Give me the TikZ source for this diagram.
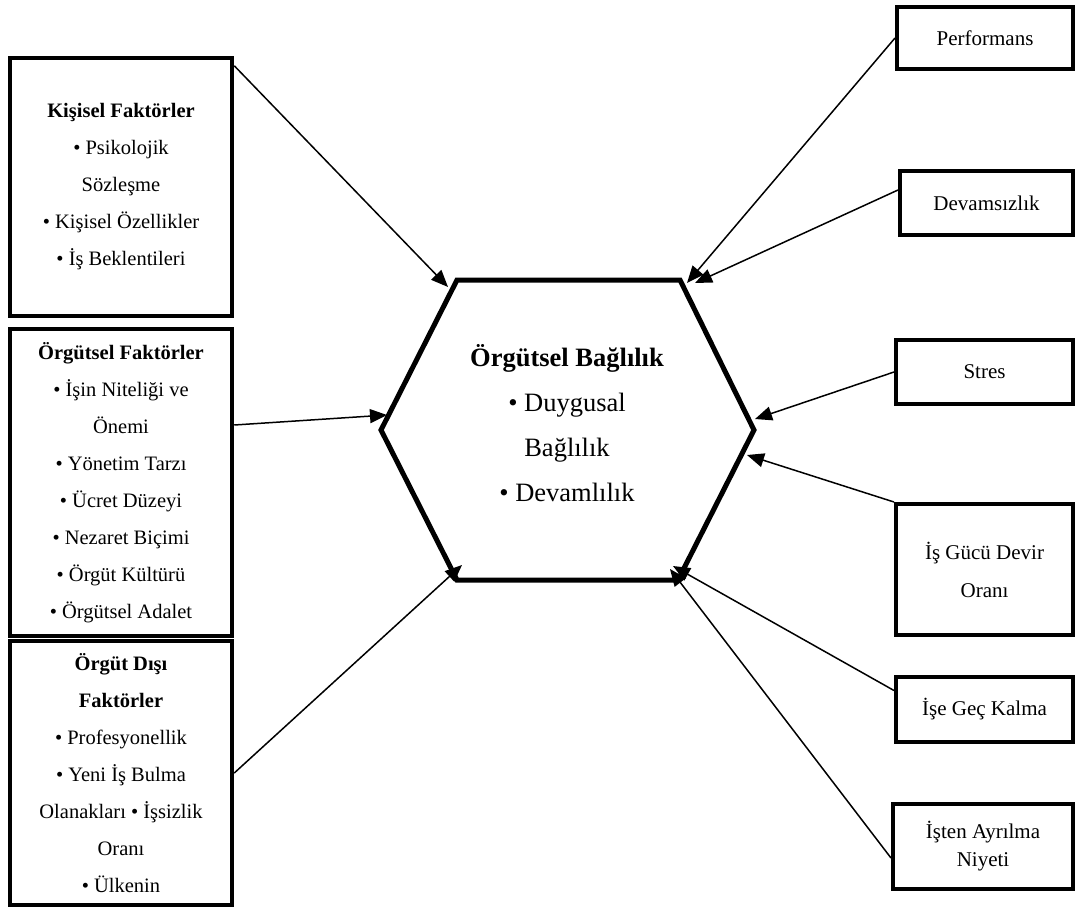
\documentclass[tikz,border=0pt]{standalone}
\usepackage{fontspec}
\setmainfont{Liberation Serif}
\usetikzlibrary{arrows.meta}

\begin{document}
\begin{tikzpicture}[x=1pt,y=-1pt,
		leftbox/.style={draw,line width=4.5pt,inner sep=0pt,align=center,minimum width=222pt,font=\fontsize{20.5}{37}\selectfont},
		rightbox/.style={draw,line width=4pt,inner sep=0pt,align=center,font=\fontsize{21}{38}\selectfont},
		hexline/.style={line width=5pt,line join=miter},
		arr/.style={line width=1.5pt,-{Triangle[length=17pt,width=14pt]}}]
			\useasboundingbox (0,0) rectangle (1075,908);
			% left side
			\node[leftbox,minimum height=258pt] (k1) at (121,187) {\textbf{Kişisel Faktörler}\\• Psikolojik\\Sözleşme\\• Kişisel Özellikler\\• İş Beklentileri};
			\node[leftbox,minimum height=307pt] (k2) at (121,482.5) {\textbf{Örgütsel Faktörler}\\• İşin Niteliği ve\\Önemi\\• Yönetim Tarzı\\• Ücret Düzeyi\\• Nezaret Biçimi\\• Örgüt Kültürü\\• Örgütsel Adalet};
			\node[leftbox,minimum height=264pt] (k3) at (121,773) {\textbf{Örgüt Dışı}\\\textbf{Faktörler}\\• Profesyonellik\\• Yeni İş Bulma\\Olanakları • İşsizlik\\Oranı\\• Ülkenin};
			% hexagon
			\coordinate (h1) at (457,280);
			\coordinate (h2) at (680,280);
			\coordinate (h3) at (754,430);
			\coordinate (h4) at (678,580);
			\coordinate (h5) at (457,580);
			\coordinate (h6) at (381,430);
			\draw[hexline] (h1) -- (h2) -- (h3) -- (h4) -- (h5) -- (h6) -- cycle;
			\node[align=center,font=\fontsize{26.5}{45}\selectfont] (ob) at (567,423) {\textbf{Örgütsel Bağlılık}\\• Duygusal\\Bağlılık\\• Devamlılık};
			% right side
			\node[rightbox,minimum width=176pt,minimum height=62pt] (p1) at (985,38) {Performans};
			\node[rightbox,minimum width=173pt,minimum height=64pt] (p2) at (986.5,203) {Devamsızlık};
			\node[rightbox,minimum width=177pt,minimum height=64pt] (p3) at (984.5,372) {Stres};
			\node[rightbox,minimum width=177pt,minimum height=131pt] (p4) at (984.5,569.5) {İş Gücü Devir\\Oranı};
			\node[rightbox,minimum width=177pt,minimum height=65pt] (p5) at (984.5,709.5) {İşe Geç Kalma};
			\node[rightbox,minimum width=180pt,minimum height=85pt,font=\fontsize{21}{28}\selectfont] (p6) at (983,846.5) {İşten Ayrılma\\Niyeti};
			% arrow tips on the hexagon
			\coordinate (t1) at (448,287);
			\coordinate (t2) at (387,415);
			\coordinate (t3) at (462,565);
			\coordinate (t4) at (687,283);
			\coordinate (t5) at (695,283);
			\coordinate (t6) at (755,419);
			\coordinate (t7) at (747,455);
			\coordinate (t8) at (673,566);
			\coordinate (t9) at (670,569);
			\draw[arr] ([yshift=-10pt]k1.north east) -- (t1);
			\draw[arr] ([yshift=57.5pt]k2.east) -- (t2);
			\draw[arr] (k3.east) -- (t3);
			\draw[arr] (p1.west) -- (t4);
			\draw[arr] ([yshift=13pt]p2.west) -- (t5);
			\draw[arr] (p3.west) -- (t6);
			\draw[arr] (p4.north west) -- (t7);
			\draw[arr] ([yshift=19pt]p5.west) -- (t8);
			\draw[arr] ([yshift=-11.5pt]p6.west) -- (t9);
		\end{tikzpicture}
\end{document}
